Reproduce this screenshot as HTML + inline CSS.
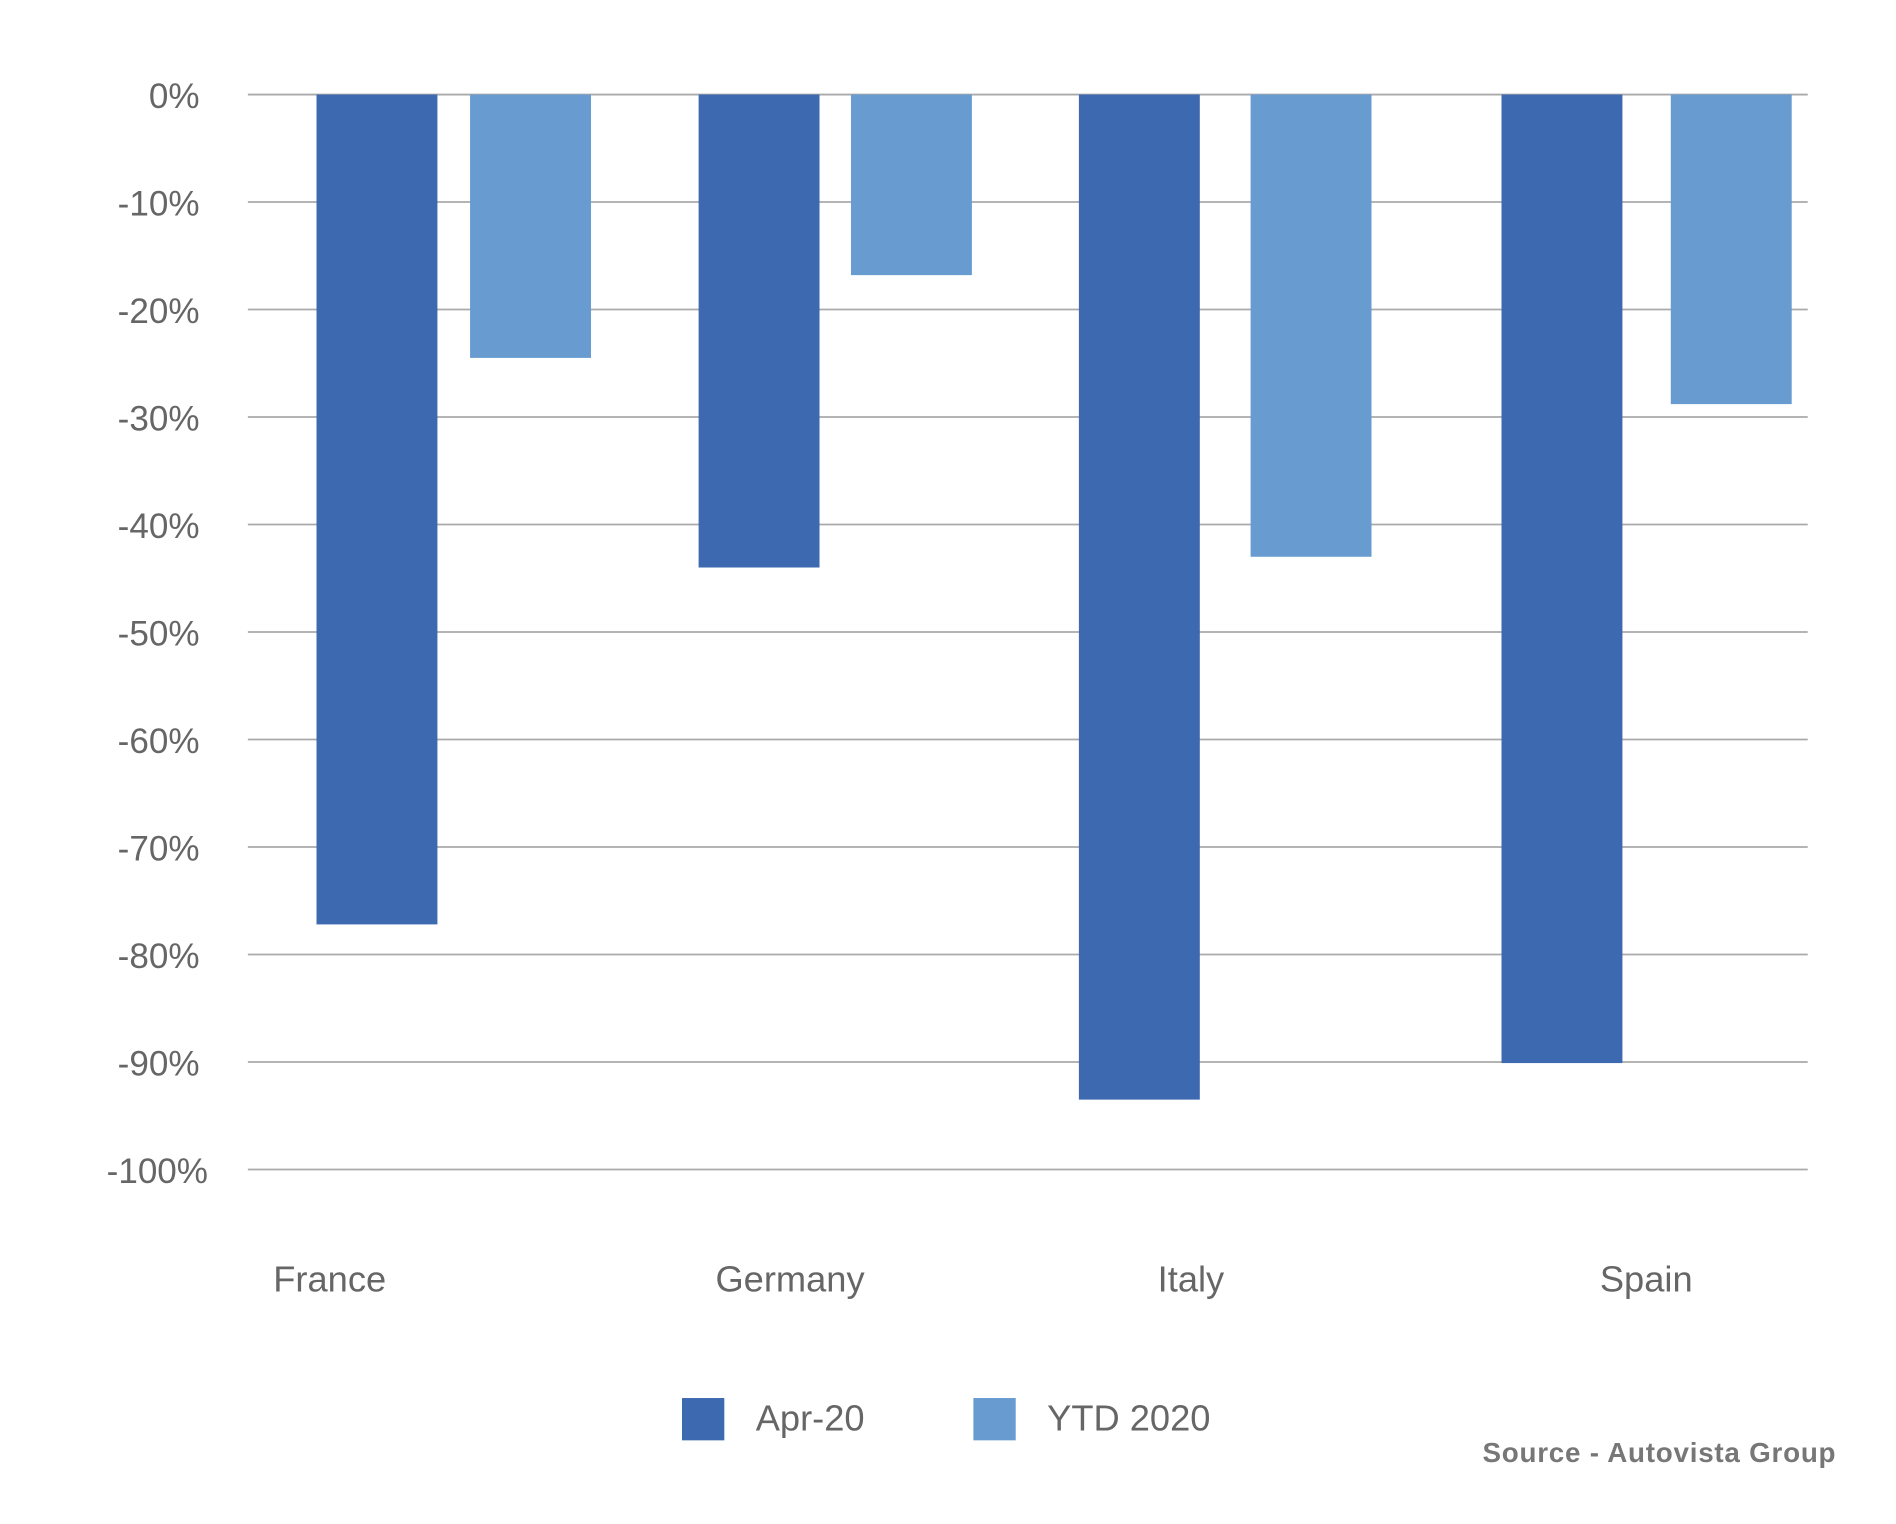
<!DOCTYPE html>
<html><head><meta charset="utf-8"><style>
html,body{margin:0;padding:0;background:#fff;}
svg{display:block;font-family:"Liberation Sans",Arial,sans-serif;}
</style></head><body>
<svg id="chart" width="1896" height="1524" viewBox="0 0 1568 1260" xmlns="http://www.w3.org/2000/svg">
<g id="grid"></g><g id="bars"></g><g id="labels"></g>
<g>
<rect x="564" y="1156" width="35" height="35" fill="#3d69b0"/>
<text x="625" y="1183" font-size="30" fill="#666">Apr-20</text>
<rect x="805" y="1156" width="35" height="35" fill="#689bd0"/>
<text x="866" y="1183" font-size="30" fill="#666">YTD 2020</text>
</g>
<text x="1518" y="1209" text-anchor="end" font-size="23" font-weight="bold" fill="#777" textLength="292">Source - Autovista Group</text>
</svg>
<script>
const categories=["France","Germany","Italy","Spain"];
const apr20=[-77.2,-44.0,-93.5,-90.1];
const ytd2020=[-24.5,-16.8,-43.0,-28.8];
const ticks=[0,-10,-20,-30,-40,-50,-60,-70,-80,-90,-100];
const NS="http://www.w3.org/2000/svg";
const x0=205,x1=1495,yTop=78,yBot=967;
const y=v=>yTop+(-v)/100*(yBot-yTop);
const band=(x1-x0)/categories.length;
const shift=[9,2,2,28];
const gaps=[27,26,42,40];
const cx=i=>x0+band*(i+0.5)+shift[i];
function mk(tag,attrs,parent){const e=document.createElementNS(NS,tag);for(const k in attrs)e.setAttribute(k,attrs[k]);document.getElementById(parent).appendChild(e);return e;}
ticks.forEach(t=>{
 const l=mk('line',{x1:x0,x2:x1,y1:y(t),y2:y(t),stroke:'#aaa','stroke-width':1.5},'grid');
 
 
 const tx=mk('text',{x:t===-100?172:165,y:y(t)+11,'text-anchor':'end','font-size':29,fill:'#666'},'labels');
 tx.textContent=t+'%';
 
 
});
const bw=100;
categories.forEach((c,i)=>{
 const c0=cx(i),g=gaps[i];
 const a=mk('rect',{x:c0-g/2-bw,y:y(0),width:bw,height:y(apr20[i])-y(0),fill:'#3d69b0'},'bars');
 
 
 const b=mk('rect',{x:c0+g/2,y:y(0),width:bw,height:y(ytd2020[i])-y(0),fill:'#689bd0'},'bars');
 
 
 const t=mk('text',{x:226+i*365.7,y:1068,'font-size':30,fill:'#666'},'labels');
 t.textContent=c;
 
 
});
</script>
</body></html>
